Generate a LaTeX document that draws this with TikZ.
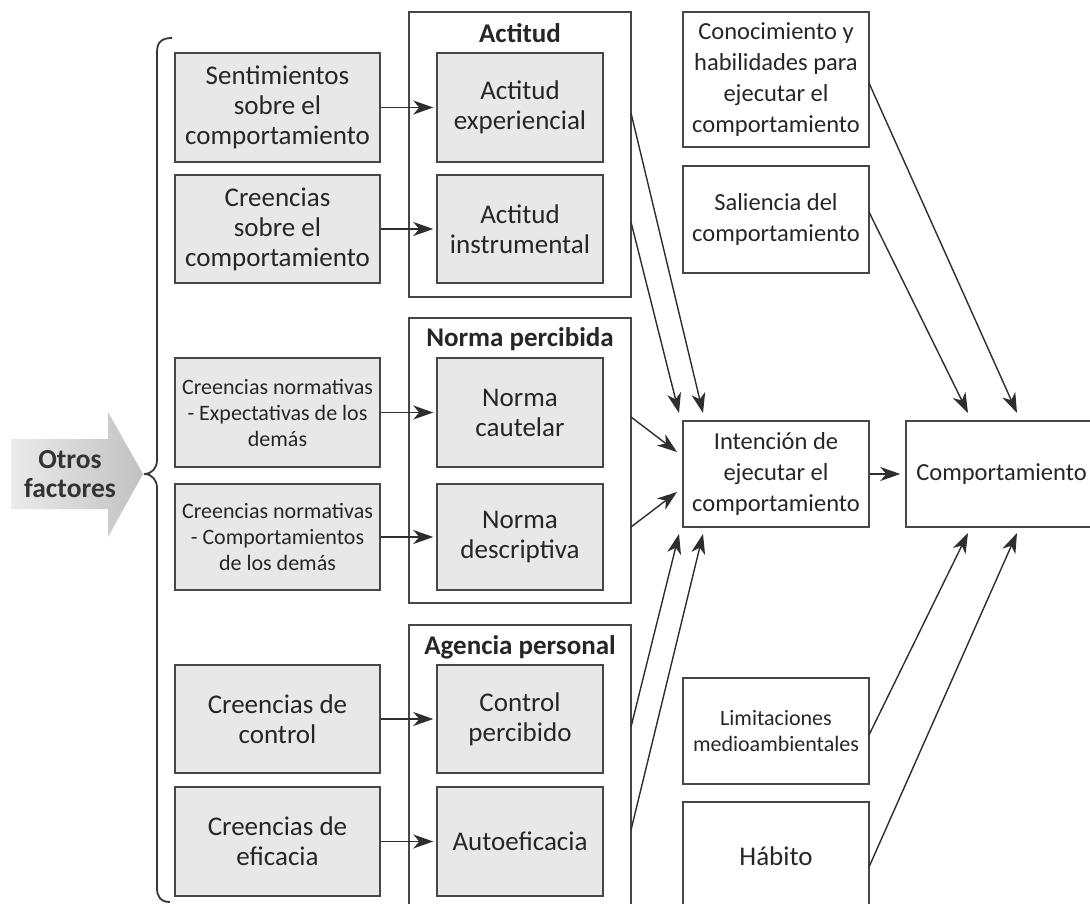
\documentclass[tikz,border=0pt]{standalone}
\usepackage{fontspec}
\setmainfont{Carlito}
\usetikzlibrary{arrows.meta,calc}
\begin{document}
\begin{tikzpicture}[x=1pt,y=-1pt]
\tikzset{
 graybox/.style={draw=black!72, line width=1.5pt, fill=gray!18, inner sep=2pt, align=center, text=black!85},
 whitebox/.style={draw=black!72, line width=1.5pt, fill=white, inner sep=2pt, align=center, text=black!85},
 groupbox/.style={draw=black!72, line width=1.5pt, fill=white, inner sep=0pt},
 bigtxt/.style={font=\fontsize{27}{30}\selectfont},
 medtxt/.style={font=\fontsize{24.5}{31}\selectfont},
 smalltxt/.style={font=\fontsize{22}{26}\selectfont},
 arr/.style={draw=black!82, line width=1.4pt, -{Stealth[length=20pt,width=14pt,inset=6pt]}},
 grouptitle/.style={font=\bfseries\fontsize{27}{30}\selectfont, text=black!85, inner sep=0pt},
}
\clip (0,0) rectangle (1090,904);
\fill[white] (0,0) rectangle (1090,904);

% Otros factores arrow
\path[left color=gray!16, right color=gray!48] (11,439) -- (108,439) -- (108,412) -- (143,474) -- (108,537) -- (108,509) -- (11,509) -- cycle;
\node[font=\bfseries\fontsize{27.5}{29}\selectfont, align=center, text=black!80] (otros) at (70,474) {Otros\\factores};

% brace
\draw[line width=1.8pt, black!78] (172,38) .. controls (162,38) and (157,42) .. (157,52) -- (157,460) .. controls (157,468) and (152,474) .. (144,474) .. controls (152,474) and (157,480) .. (157,488) -- (157,888) .. controls (157,896) and (160,902) .. (170,902);

% group boxes
\node[groupbox, minimum width=222, minimum height=285] (actg) at (520,154.5) {};
\node[groupbox, minimum width=222, minimum height=285] (normg) at (520,460.5) {};
\node[groupbox, minimum width=222, minimum height=285] (agg) at (520,767.5) {};
\node[grouptitle] (actt) at (520,33) {Actitud};
\node[grouptitle] (normt) at (520,339) {Norma percibida};
\node[grouptitle] (agt) at (520,647) {Agencia personal};

% left boxes
\node[graybox, bigtxt, minimum width=205, minimum height=109] (sent) at (277.5,107.5) {Sentimientos\\sobre el\\comportamiento};
\node[graybox, bigtxt, minimum width=205, minimum height=108] (creen) at (277.5,229) {Creencias\\sobre el\\comportamiento};
\node[graybox, smalltxt, minimum width=205, minimum height=109] (cn1) at (277.5,412.5) {Creencias normativas\\- Expectativas de los\\demás};
\node[graybox, smalltxt, minimum width=205, minimum height=106] (cn2) at (277.5,537) {Creencias normativas\\- Comportamientos\\de los demás};
\node[graybox, bigtxt, minimum width=205, minimum height=108] (ccont) at (277.5,719) {Creencias de\\control};
\node[graybox, bigtxt, minimum width=205, minimum height=109] (cefic) at (277.5,841.5) {Creencias de\\eficacia};

% inner boxes
\node[graybox, bigtxt, minimum width=166, minimum height=109] (aexp) at (520,107.5) {Actitud\\experiencial};
\node[graybox, bigtxt, minimum width=166, minimum height=108] (ainst) at (520,229) {Actitud\\instrumental};
\node[graybox, bigtxt, minimum width=166, minimum height=109] (ncaut) at (520,412.5) {Norma\\cautelar};
\node[graybox, bigtxt, minimum width=166, minimum height=106] (ndesc) at (520,537) {Norma\\descriptiva};
\node[graybox, bigtxt, minimum width=166, minimum height=108] (cperc) at (520,719) {Control\\percibido};
\node[graybox, bigtxt, minimum width=166, minimum height=109] (autoe) at (520,841.5) {Autoeficacia};

% right column
\node[whitebox, medtxt, minimum width=186, minimum height=135] (conoc) at (776,79.5) {Conocimiento y\\habilidades para\\ejecutar el\\comportamiento};
\node[whitebox, medtxt, minimum width=186, minimum height=107] (salien) at (776,219.5) {Saliencia del\\comportamiento};
\node[whitebox, medtxt, minimum width=186, minimum height=106] (inten) at (776,474) {Intención de\\ejecutar el\\comportamiento};
\node[whitebox, smalltxt, minimum width=186, minimum height=106] (limit) at (776,731) {Limitaciones\\medioambientales};
\node[whitebox, bigtxt, minimum width=186, minimum height=108] (habit) at (776,856) {Hábito};
\node[whitebox, medtxt, minimum width=191, minimum height=106] (comp) at (1001.5,474) {Comportamiento};

% horizontal arrows
\draw[arr, shorten >=3pt] (sent) -- (aexp);
\draw[arr, shorten >=3pt] (creen) -- (ainst);
\draw[arr, shorten >=3pt] (cn1) -- (ncaut);
\draw[arr, shorten >=3pt] (cn2) -- (ndesc);
\draw[arr, shorten >=3pt] (ccont) -- (cperc);
\draw[arr, shorten >=3pt] (cefic) -- (autoe);
\draw[arr, shorten >=5pt] (inten) -- (comp);

% diagonal arrows into intention
\coordinate (a1) at (631,113);
\coordinate (a2) at (631,222);
\coordinate (n1) at (631,417);
\coordinate (n2) at (631,527);
\coordinate (g1) at (631,727);
\coordinate (g2) at (631,830);
\coordinate (itl) at (679,413);
\coordinate (itr) at (703,413);
\coordinate (iml) at (677,452);
\coordinate (imr) at (677,492);
\coordinate (ibl) at (679,534);
\coordinate (ibr) at (703,534);
\draw[arr] (a1) -- (itr);
\draw[arr] (a2) -- (itl);
\draw[arr] (n1) -- (iml);
\draw[arr] (n2) -- (imr);
\draw[arr] (g1) -- (ibl);
\draw[arr] (g2) -- (ibr);

% diagonal arrows into behaviour
\coordinate (c1) at (869,83);
\coordinate (s1) at (869,212);
\coordinate (l1) at (869,735);
\coordinate (h1) at (869,867);
\coordinate (ctl) at (968,413);
\coordinate (ctr) at (1017,413);
\coordinate (cbl) at (968,533);
\coordinate (cbr) at (1017,533);
\draw[arr] (c1) -- (ctr);
\draw[arr] (s1) -- (ctl);
\draw[arr] (l1) -- (cbl);
\draw[arr] (h1) -- (cbr);
\end{tikzpicture}
\end{document}
